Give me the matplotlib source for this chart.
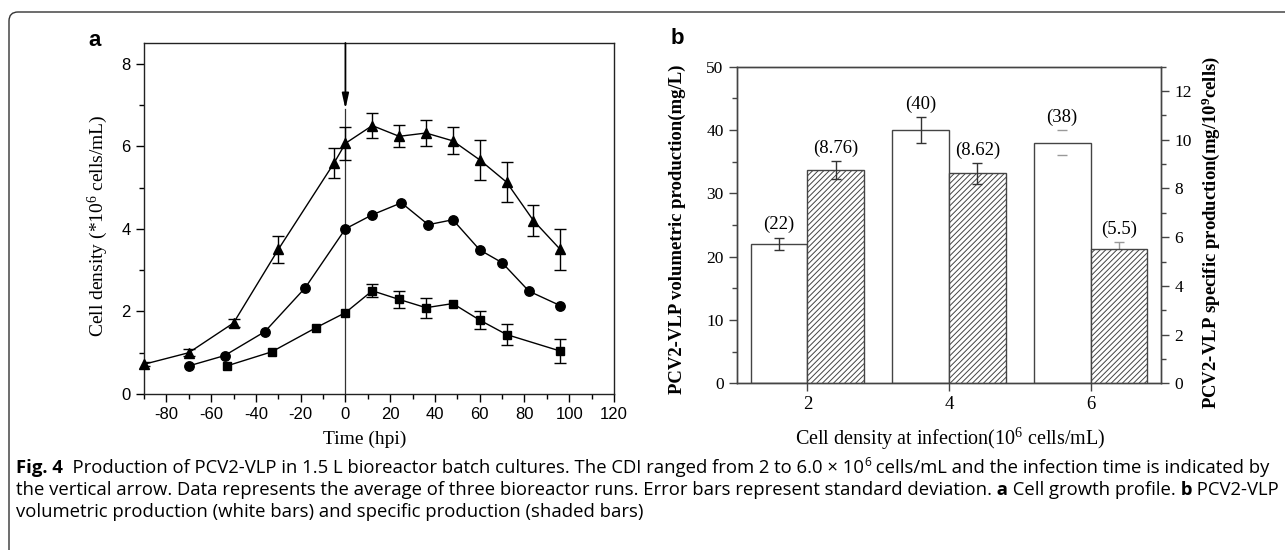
import matplotlib
matplotlib.use("Agg")
import matplotlib.pyplot as plt
import numpy as np
from matplotlib.patches import FancyBboxPatch
from matplotlib.transforms import IdentityTransform
from matplotlib.ticker import MultipleLocator

# ---------------- data: panel a (cell density, 10^6 cells/mL) ----------------
tri_time = [-90, -70, -50, -30, -5, 0, 12, 24, 36, 48, 60, 72, 84, 96]
tri_density = [0.72, 1.0, 1.72, 3.5, 5.6, 6.07, 6.5, 6.24, 6.32, 6.13, 5.67, 5.13, 4.2, 3.5]
tri_err = [0.05, 0.08, 0.1, 0.33, 0.36, 0.4, 0.3, 0.27, 0.32, 0.33, 0.49, 0.48, 0.37, 0.5]

cir_time = [-70, -54, -36, -18, 0, 12, 25, 37, 48, 60, 70, 82, 96]
cir_density = [0.68, 0.93, 1.51, 2.57, 4.0, 4.34, 4.63, 4.1, 4.22, 3.49, 3.18, 2.49, 2.14]

sq_time = [-53, -33, -13, 0, 12, 24, 36, 48, 60, 72, 96]
sq_density = [0.68, 1.02, 1.61, 1.97, 2.5, 2.29, 2.09, 2.19, 1.79, 1.44, 1.04]
sq_err = [0, 0, 0, 0, 0.16, 0.2, 0.24, 0, 0.22, 0.25, 0.3]

infection_time = 0

# ---------------- data: panel b ----------------
cdi = [2, 4, 6]
vol_prod = [22, 40, 38]          # mg/L (left axis)
vol_err = [1.0, 2.0, 2.0]
spec_prod = [8.76, 8.62, 5.5]    # mg/10^9 cells (right axis)
spec_err = [0.37, 0.42, 0.3]

# ---------------- style ----------------
plt.rcParams['mathtext.fontset'] = 'custom'
plt.rcParams['mathtext.rm'] = 'Liberation Serif'
plt.rcParams['mathtext.it'] = 'Liberation Serif:italic'
plt.rcParams['mathtext.bf'] = 'Liberation Serif:bold'
plt.rcParams['hatch.linewidth'] = 0.7
plt.rcParams['axes.unicode_minus'] = False

SERIF = 'Liberation Serif'
SANS = 'Liberation Sans'
CAP = 'Open Sans'

W, H = 1285, 550
fig = plt.figure(figsize=(W / 100, H / 100), dpi=100)


def ax_rect(l, t, r, b):
    return [l / W, 1 - b / H, (r - l) / W, (b - t) / H]


# ================= panel a =================
axa = fig.add_axes(ax_rect(144, 43, 614, 394))


def series(ax, t, v, e, marker, ms):
    t = np.asarray(t, float)
    v = np.asarray(v, float)
    ax.plot(t, v, color='k', lw=1.0, marker=marker, ms=ms, mfc='k', mec='k',
            clip_on=False, zorder=3)
    if e is not None:
        e = np.asarray(e, float)
        m = e > 0
        ax.errorbar(t[m], v[m], yerr=e[m], fmt='none', ecolor='k', elinewidth=1.0,
                    capsize=4, capthick=1.0, zorder=2)


series(axa, tri_time, tri_density, tri_err, '^', 7.6)
series(axa, cir_time, cir_density, None, 'o', 6.8)
series(axa, sq_time, sq_density, sq_err, 's', 6.0)

axa.set_xlim(-90, 120)
axa.set_ylim(0, 8.5)
# infection arrow
axa.plot([infection_time, infection_time], [0, 6.9], color='#333', lw=0.9, zorder=1)
axa.annotate('', xy=(infection_time, 6.9), xytext=(infection_time, 8.5),
             arrowprops=dict(arrowstyle='-|>,head_length=0.9,head_width=0.2',
                             lw=1.3, color='k', shrinkA=0, shrinkB=0))

axa.xaxis.set_major_locator(MultipleLocator(20))
axa.xaxis.set_minor_locator(MultipleLocator(10))
axa.yaxis.set_major_locator(MultipleLocator(2))
axa.yaxis.set_minor_locator(MultipleLocator(1))
axa.tick_params(which='major', direction='out', length=6, width=1, labelsize=12)
axa.tick_params(which='minor', direction='out', length=3.5, width=1)
for lab in axa.get_xticklabels() + axa.get_yticklabels():
    lab.set_family(SANS)
for s in axa.spines.values():
    s.set_color('#222')
    s.set_linewidth(1.0)

axa.set_ylabel('Cell density (*10$^6$ cells/mL)', family=SERIF, fontsize=14)
axa.yaxis.set_label_coords(-0.072, 0.48)
axa.set_xlabel('Time (hpi)', family=SERIF, fontsize=14)
axa.xaxis.set_label_coords(0.47, -0.105)

fig.text(95 / W, 1 - 40 / H, 'a', family=SANS, fontweight='bold', fontsize=16,
         ha='center', va='center')

# ================= panel b =================
axb = fig.add_axes(ax_rect(736.7, 66.7, 1161.3, 383.3))
axb2 = axb.twinx()
x = np.asarray(cdi, float)
EC = '#444'
axb.bar(x, vol_prod, width=-0.8, align='edge', color='white', edgecolor=EC,
        lw=1.0, zorder=2)
axb2.bar(x, spec_prod, width=0.8, align='edge', color='white', edgecolor=EC,
         hatch='//////', lw=1.0, zorder=2)

vol_line = [1.0, 1.0, 0.0]
vol_col = ['#333', '#333', '#999']
spec_z = [4, 4, 1]
spec_col = ['#333', '#333', '#999']
for i in range(len(cdi)):
    axb.errorbar(x[i] - 0.4, vol_prod[i], yerr=vol_err[i], fmt='none',
                 ecolor=vol_col[i], elinewidth=vol_line[i], capsize=3.5,
                 capthick=1.0, zorder=4)
    axb.annotate(f'({vol_prod[i]:g})', xy=(x[i] - 0.4, vol_prod[i] + vol_err[i]),
                 xytext=(0, 3), textcoords='offset points', ha='center', va='bottom',
                 family=SERIF, fontsize=13.5)
    axb2.errorbar(x[i] + 0.4, spec_prod[i], yerr=spec_err[i], fmt='none',
                  ecolor=spec_col[i], elinewidth=1.0, capsize=3.5, capthick=1.0,
                  zorder=spec_z[i])
    axb2.annotate(f'({spec_prod[i]:g})', xy=(x[i] + 0.4, spec_prod[i] + spec_err[i]),
                  xytext=(0, 3), textcoords='offset points', ha='center', va='bottom',
                  family=SERIF, fontsize=13.5)

axb.set_xlim(1, 7)
axb.set_ylim(0, 50)
axb2.set_ylim(0, 13)
axb.set_xticks(x)
axb.set_xticklabels([str(c) for c in cdi])
axb.yaxis.set_major_locator(MultipleLocator(10))
axb.yaxis.set_minor_locator(MultipleLocator(5))
axb2.yaxis.set_major_locator(MultipleLocator(2))
axb2.yaxis.set_minor_locator(MultipleLocator(1))
for a in (axb, axb2):
    a.tick_params(which='major', direction='out', length=6, width=1,
                  labelsize=12.5, color=EC)
    a.tick_params(which='minor', direction='out', length=3.5, width=1, color=EC)
    for s in a.spines.values():
        s.set_color(EC)
        s.set_linewidth(1.0)
axb.tick_params(axis='x', labelsize=13.5)
for lab in axb.get_xticklabels() + axb.get_yticklabels() + axb2.get_yticklabels():
    lab.set_family(SERIF)

axb.set_ylabel('PCV2-VLP volumetric production(mg/L)', family=SERIF,
               fontweight='bold', fontsize=13.5)
axb.yaxis.set_label_coords(-0.119, 0.486)
axb2.set_ylabel('PCV2-VLP specific production(mg/10$^\\mathbf{9}$cells)', family=SERIF,
                fontweight='bold', fontsize=13.5, rotation=90)
axb2.yaxis.set_label_coords(1.089, 0.476)
axb.set_xlabel('Cell density at infection(10$^6$ cells/mL)', family=SERIF, fontsize=14.5)
axb.xaxis.set_label_coords(0.502, -0.135)

fig.text(677 / W, 1 - 38 / H, 'b', family=SANS, fontweight='bold', fontsize=16,
         ha='center', va='center')

# ================= frame =================
frame = FancyBboxPatch((9, -40), 1320, 550 - 12 + 40,
                       boxstyle='round,pad=0,rounding_size=9',
                       transform=IdentityTransform(), fill=False,
                       edgecolor='#333', lw=1.0)
fig.patches.append(frame)

# ================= caption =================
line1 = [('Fig. 4', 'bold', False),
         ('  Production of PCV2-VLP in 1.5 L bioreactor batch cultures. The CDI ranged from 2 to 6.0 \u00d7 10', 'normal', False),
         ('6', 'normal', True),
         (' cells/mL and the infection time is indicated by', 'normal', False)]
line2 = [('the vertical arrow. Data represents the average of three bioreactor runs. Error bars represent standard deviation.', 'normal', False),
         (' a', 'bold', False),
         (' Cell growth profile.', 'normal', False),
         (' b', 'bold', False),
         (' PCV2-VLP', 'normal', False)]
line3 = [('volumetric production (white bars) and specific production (shaded bars)', 'normal', False)]

renderer = fig.canvas.get_renderer()


def widths(runs, size):
    out = []
    for txt, wt, sup in runs:
        t = fig.text(0, 0, txt, fontsize=size * (0.65 if sup else 1.0),
                     fontweight=wt, family=CAP)
        out.append(t.get_window_extent(renderer).width)
        t.remove()
    return out


base = 11.0
w1 = sum(widths(line1, base))
size = base * (1268 - 16) / w1


def draw_line(runs, y_base):
    ws = widths(runs, size)
    xp = 16
    for (txt, wt, sup), w in zip(runs, ws):
        yy = y_base - (size * 0.55 if sup else 0)
        fig.text(xp / W, 1 - yy / H, txt, fontsize=size * (0.65 if sup else 1.0),
                 fontweight=wt, family=CAP, ha='left', va='baseline')
        xp += w


draw_line(line1, 473)
draw_line(line2, 495)
draw_line(line3, 517)

fig.savefig('out.png', dpi=100)
